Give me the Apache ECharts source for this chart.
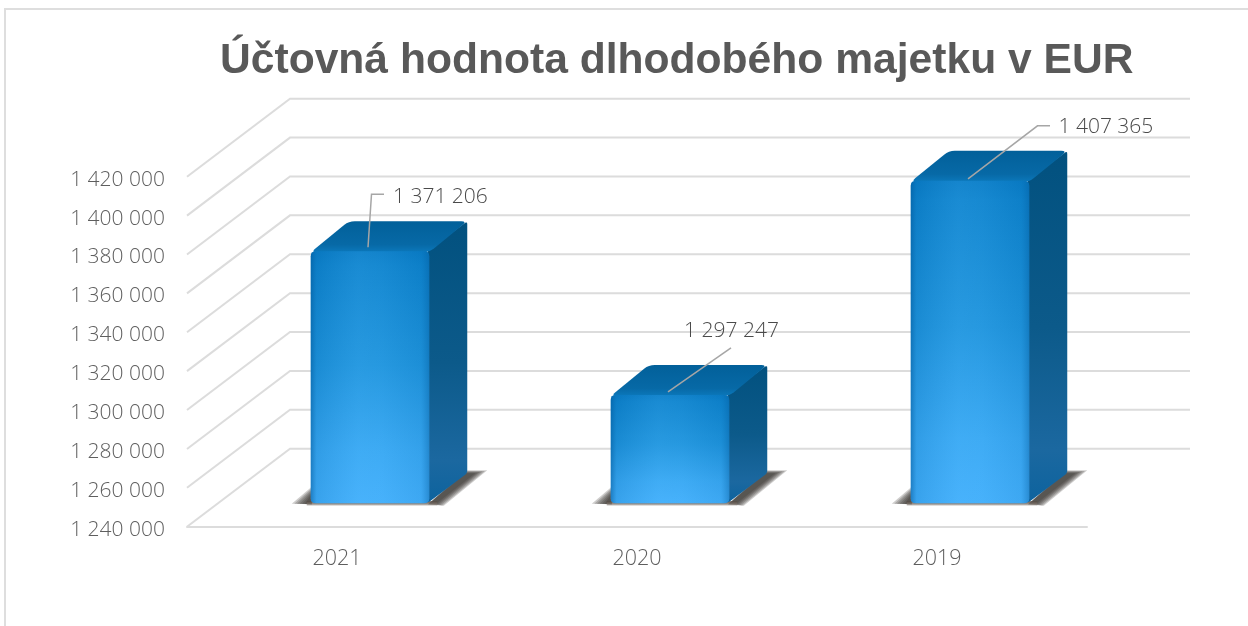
<!DOCTYPE html>
<html><head><meta charset="utf-8">
<style>html,body{margin:0;padding:0;background:#fff}#c{width:1248px;height:626px}</style>
<script src="https://cdn.jsdelivr.net/npm/echarts@6/dist/echarts.min.js"></script>
</head><body><div id="c"></div>
<script>
const titleText = 'Účtovná hodnota dlhodobého majetku v EUR';
const categories = ['2021', '2020', '2019'];
const values = [1371206, 1297247, 1407365];
const valueLabels = ['1 371 206', '1 297 247', '1 407 365'];
const axisTicks = [1240000,1260000,1280000,1300000,1320000,1340000,1360000,1380000,1400000,1420000];

// layout of the simulated 3D scene (pixels)
const WALL = {dx: 103, dy: -78, w: 900};
const BAR = {dx: 33, up: 23.4, topFix: 3, w: 118.5, depthX: 38, depthY: 30};
const LEADERS = [
  {pts: [[-2,-4],[1.5,-57],[14,-57]], tx: 23, ty: -54, align: 'left'},
  {pts: [[-2,-3],[61,-47]], tx: 61.5, ty: -64, align: 'center'},
  {pts: [[-2,-2],[67.5,-55],[80,-55]], tx: 88.5, ty: -54, align: 'left'}
];
const FONT = '"Open Sans", Lato, sans-serif';
const GRID_C = '#dcdcdc';

function fmt(v){ return String(v).replace(/\B(?=(\d{3})+$)/g,' '); }
function lin(x2,y2,stops){ return {type:'linear',x:0,y:0,x2,y2,colorStops:stops.map(s=>({offset:s[0],color:s[1]}))}; }
function roundPoly(p,r){
  const out=[], n=p.length;
  for(let i=0;i<n;i++){
    const a=p[(i+n-1)%n], b=p[i], c=p[(i+1)%n];
    const la=Math.hypot(a[0]-b[0],a[1]-b[1]), lc=Math.hypot(c[0]-b[0],c[1]-b[1]);
    const ra=Math.min(r,la/2), rc=Math.min(r,lc/2);
    const s=[b[0]+(a[0]-b[0])*ra/la,b[1]+(a[1]-b[1])*ra/la];
    const e=[b[0]+(c[0]-b[0])*rc/lc,b[1]+(c[1]-b[1])*rc/lc];
    for(let t=0;t<=1.001;t+=0.25){
      out.push([(1-t)*(1-t)*s[0]+2*t*(1-t)*b[0]+t*t*e[0],(1-t)*(1-t)*s[1]+2*t*(1-t)*b[1]+t*t*e[1]]);
    }
  }
  return out;
}

function renderWall(params, api){
  const v = api.value(1);
  const front = api.coord([0, v]);
  const size = api.size([1, 0]);
  const x0 = front[0] - size[0]/2, y = front[1];
  return {type:'polyline', silent:true,
    shape:{points:[[x0,y],[x0+WALL.dx,y+WALL.dy],[x0+WALL.dx+WALL.w,y+WALL.dy]]},
    style:{stroke:GRID_C,lineWidth:2,fill:null}};
}

function shadowLayers(l, r, bot, dx, dy){
  const out = [];
  for (let k = 0; k < 6; k++) {
    const f = 'rgba(50,46,42,0.24)';
    // right wedge, growing a little with every layer so that its edge looks soft
    out.push({type:'polygon',silent:true,shape:{points:[
      [r-1,bot+1],[r+dx-2,bot-dy-k*0.6],[r+dx+8+k*2.4,bot-dy-k*0.6],[r+7+k*1.5,bot+0.5+k*0.4]]},style:{fill:f}});
    // left wedge
    out.push({type:'polygon',silent:true,shape:{points:[
      [l+1,bot+1],[l+1,bot-9-k*1.5],[l-6-k*2.6,bot+0.5]]},style:{fill:f}});
  }
  out.push({type:'rect',silent:true,shape:{x:l-4,y:bot-2,width:BAR.w+12,height:5},
    style:{fill:lin(0,1,[[0,'rgba(85,75,68,0.95)'],[0.6,'rgba(130,120,112,0.75)'],[1,'rgba(160,155,150,0)']])}});
  return out;
}

function renderBar(params, api){
  const idx = api.value(0), v = api.value(1);
  const c = api.coord([idx, v]);
  const base = api.coord([idx, axisTicks[0]]);
  const cx = c[0]+BAR.dx, l = cx-BAR.w/2, r = cx+BAR.w/2;
  const top = c[1]-BAR.up+BAR.topFix, bot = base[1]-BAR.up;
  const dx = BAR.depthX, dy = BAR.depthY;
  const L = LEADERS[params.dataIndex];
  const children = shadowLayers(l, r, bot, dx, dy).concat([
    {type:'polygon',silent:true,shape:{points:roundPoly([[r-2,top],[r+dx,top-dy],[r+dx,bot-dy],[r-2,bot]],3)},
      style:{fill:lin(0,1,[[0,'#02517f'],[0.5,'#0c5a8a'],[0.85,'#1b68a0'],[1,'#0d639e']])}},
    {type:'polygon',silent:true,shape:{points:roundPoly([[l,top+1],[l+dx,top-dy],[r+dx,top-dy],[r,top+1]],6)},
      style:{fill:lin(0,1,[[0,'#02609a'],[0.75,'#0769a6'],[1,'#0b78bb']])}},
    {type:'polygon',silent:true,shape:{points:roundPoly([[l,top],[r,top],[r,bot],[l,bot]],5)},
      style:{fill:lin(0,1,[[0,'#0a7cc5'],[0.06,'#0f83cc'],[0.45,'#2094dc'],[0.8,'#3ba9f3'],[1,'#45b0fb']])}},
    {type:'polygon',silent:true,shape:{points:roundPoly([[l,top],[r,top],[r,bot],[l,bot]],5)},
      style:{fill:lin(1,0,[[0,'rgba(0,85,150,0.55)'],[0.05,'rgba(0,100,170,0.18)'],[0.4,'rgba(90,190,255,0.14)'],[0.6,'rgba(90,190,255,0.1)'],[0.93,'rgba(0,100,170,0.1)'],[1,'rgba(0,85,150,0.4)']])}},
    {type:'polyline',silent:true,shape:{points:L.pts.map(p=>[cx+p[0],top+p[1]])},
      style:{stroke:'#a6a6a6',lineWidth:1.5,fill:null}},
    {type:'text',silent:true,style:{text:valueLabels[params.dataIndex],x:cx+L.tx,y:top+L.ty,
      textAlign:L.align,textVerticalAlign:'middle',fill:'#4a4a4a',fontSize:21,fontWeight:300,fontFamily:FONT}}
  ]);
  return {type:'group',children};
}

const chart = echarts.init(document.getElementById('c'), null, {renderer:'canvas', width:1248, height:626});
chart.setOption({
  animation:false,
  backgroundColor:'#ffffff',
  title:{text:titleText,left:220,top:40,padding:0,
    textStyle:{fontFamily:'"Liberation Sans", Arial, sans-serif',fontWeight:'bold',fontSize:42.6,color:'#595959'}},
  grid:{left:187,right:161,top:176.7,bottom:99.3,containLabel:false},
  xAxis:{type:'category',data:categories,
    axisLine:{show:true,lineStyle:{color:GRID_C,width:2}},axisTick:{show:false},
    axisLabel:{margin:21,color:'#5e5e5e',fontSize:21.5,fontWeight:300,fontFamily:FONT}},
  yAxis:{type:'value',min:1240000,max:1420000,interval:20000,
    axisLine:{show:false},axisTick:{show:false},splitLine:{show:false},
    axisLabel:{margin:22,color:'#5e5e5e',fontSize:21,fontWeight:300,fontFamily:FONT,verticalAlign:'top',lineHeight:6,formatter:v=>fmt(v)}},
  graphic:[{type:'polyline',silent:true,z:-1,
    shape:{points:[[5,626],[5,9],[1248,9]]},style:{stroke:'#dedede',lineWidth:2,fill:null}}],
  series:[
    {type:'custom',name:'wall',renderItem:renderWall,silent:true,z:1,
      encode:{x:0,y:1},data:axisTicks.map(v=>[0,v])},
    {type:'custom',name:'Účtovná hodnota',renderItem:renderBar,silent:true,z:2,
      encode:{x:0,y:1},data:values.map((v,i)=>[i,v])}
  ]
});
</script></body></html>
